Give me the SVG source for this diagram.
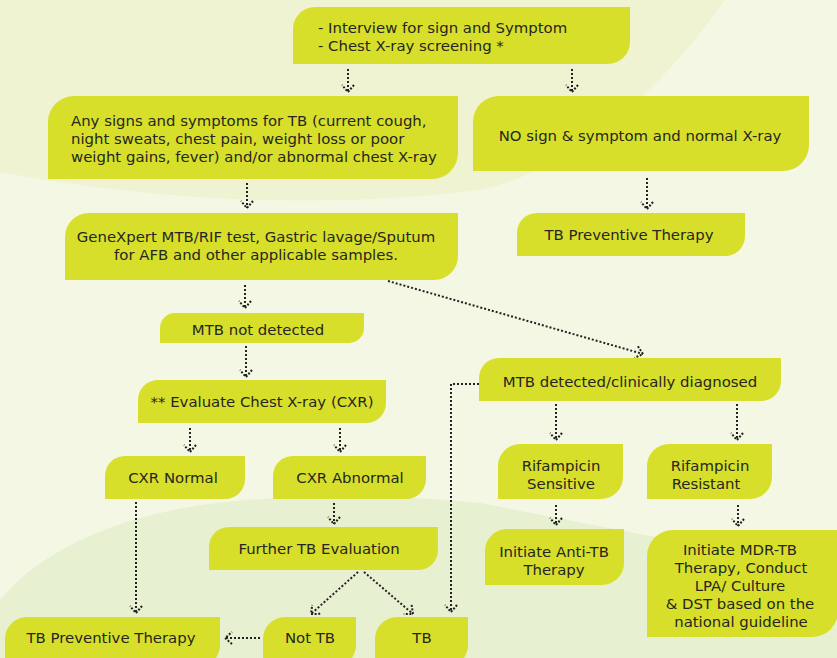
<svg xmlns="http://www.w3.org/2000/svg" width="837" height="658" viewBox="0 0 837 658">
<style>
.n{fill:#d7df2b}
.t{font-family:"DejaVu Sans","Liberation Sans",sans-serif;font-size:14.9px;fill:#26261f}
.m{text-anchor:middle}
.c{fill:none;stroke:#222;stroke-width:2;stroke-dasharray:2 2}
</style>
<defs>
<marker id="ah" viewBox="-9 -9 18 18" refX="0" refY="0" markerWidth="18" markerHeight="18" markerUnits="userSpaceOnUse" orient="auto">
<path d="M-7,-6 L0,0 L-7,6" fill="none" stroke="#222" stroke-width="2" stroke-dasharray="2 1.6"/>
</marker>
</defs>
<rect width="837" height="658" fill="#f3f7e3"/>
<path d="M0,0 L0,172 Q250,218 480,190 Q610,160 725,0 Z" fill="#eff3d1"/>
<path d="M0,658 L0,600 Q60,528 200,505 Q330,488 480,503 L837,572 L837,658 Z" fill="#e8f0d2"/>

<g id="connectors">
<line class="c" x1="348" y1="69" x2="348" y2="92" marker-end="url(#ah)"/>
<line class="c" x1="572" y1="69" x2="572" y2="92" marker-end="url(#ah)"/>
<line class="c" x1="247" y1="183" x2="247" y2="208" marker-end="url(#ah)"/>
<line class="c" x1="647" y1="178" x2="647" y2="209" marker-end="url(#ah)"/>
<line class="c" x1="245" y1="285" x2="245" y2="308" marker-end="url(#ah)"/>
<line class="c" x1="388" y1="281" x2="643" y2="354" marker-end="url(#ah)"/>
<line class="c" x1="246" y1="346" x2="246" y2="377" marker-end="url(#ah)"/>
<line class="c" x1="190" y1="428" x2="190" y2="452" marker-end="url(#ah)"/>
<line class="c" x1="340" y1="428" x2="340" y2="452" marker-end="url(#ah)"/>
<line class="c" x1="334" y1="503" x2="334" y2="524" marker-end="url(#ah)"/>
<polyline class="c" points="479,384 451,384 451,612" marker-end="url(#ah)"/>
<line class="c" x1="556" y1="404" x2="556" y2="440" marker-end="url(#ah)"/>
<line class="c" x1="737" y1="404" x2="737" y2="440" marker-end="url(#ah)"/>
<line class="c" x1="556" y1="505" x2="556" y2="525" marker-end="url(#ah)"/>
<line class="c" x1="738" y1="505" x2="738" y2="526" marker-end="url(#ah)"/>
<line class="c" x1="136" y1="502" x2="136" y2="613" marker-end="url(#ah)"/>
<line class="c" x1="358" y1="572" x2="311" y2="614" marker-end="url(#ah)"/>
<line class="c" x1="364" y1="572" x2="413" y2="614" marker-end="url(#ah)"/>
<line class="c" x1="260" y1="638" x2="225" y2="638" marker-end="url(#ah)"/>
</g>

<g id="screening">
<path class="n" d="M293,64 V29 A22,22 0 0 1 315,7 H630 V42 A22,22 0 0 1 608,64 Z"/>
<text class="t" x="318" y="33">- Interview for sign and Symptom</text>
<text class="t" x="318" y="51">- Chest X-ray screening *</text>
</g>
<g id="signs">
<path class="n" d="M48,179 V122 A26,26 0 0 1 74,96 H458 V153 A26,26 0 0 1 432,179 Z"/>
<text class="t" x="71" y="126">Any signs and symptoms for TB (current cough,</text>
<text class="t" x="71" y="144">night sweats, chest pain, weight loss or poor</text>
<text class="t" x="71" y="162">weight gains, fever) and/or abnormal chest X-ray</text>
</g>
<g id="nosign">
<path class="n" d="M473,171 V122 A26,26 0 0 1 499,96 H809 V145 A26,26 0 0 1 783,171 Z"/>
<text class="t m" x="640" y="141">NO sign &amp; symptom and normal X-ray</text>
</g>
<g id="tpt1">
<path class="n" d="M517,256 V233 A20,20 0 0 1 537,213 H745 V236 A20,20 0 0 1 725,256 Z"/>
<text class="t m" x="629" y="240">TB Preventive Therapy</text>
</g>
<g id="genexpert">
<path class="n" d="M65,280 V237 A24,24 0 0 1 89,213 H458 V256 A24,24 0 0 1 434,280 Z"/>
<text class="t m" x="256" y="242">GeneXpert MTB/RIF test, Gastric lavage/Sputum</text>
<text class="t m" x="256" y="260">for AFB and other applicable samples.</text>
</g>
<g id="notdetected">
<path class="n" d="M160,343 V328 A15,15 0 0 1 175,313 H364 V328 A15,15 0 0 1 349,343 Z"/>
<text class="t m" x="258" y="335">MTB not detected</text>
</g>
<g id="evaluate">
<path class="n" d="M138,423 V400 A20,20 0 0 1 158,380 H386 V403 A20,20 0 0 1 366,423 Z"/>
<text class="t m" x="262" y="407">** Evaluate Chest X-ray (CXR)</text>
</g>
<g id="detected">
<path class="n" d="M479,401 V378 A20,20 0 0 1 499,358 H781 V381 A20,20 0 0 1 761,401 Z"/>
<text class="t m" x="630" y="387">MTB detected/clinically diagnosed</text>
</g>
<g id="cxrnormal">
<path class="n" d="M105,499 V476 A20,20 0 0 1 125,456 H245 V479 A20,20 0 0 1 225,499 Z"/>
<text class="t m" x="173" y="483">CXR Normal</text>
</g>
<g id="cxrabnormal">
<path class="n" d="M273,499 V476 A20,20 0 0 1 293,456 H426 V479 A20,20 0 0 1 406,499 Z"/>
<text class="t m" x="350" y="483">CXR Abnormal</text>
</g>
<g id="further">
<path class="n" d="M209,570 V547 A20,20 0 0 1 229,527 H438 V550 A20,20 0 0 1 418,570 Z"/>
<text class="t m" x="319" y="554">Further TB Evaluation</text>
</g>
<g id="rifs">
<path class="n" d="M498,499 V466 A22,22 0 0 1 520,444 H623 V477 A22,22 0 0 1 601,499 Z"/>
<text class="t m" x="561" y="471">Rifampicin</text>
<text class="t m" x="561" y="489">Sensitive</text>
</g>
<g id="rifr">
<path class="n" d="M647,499 V466 A22,22 0 0 1 669,444 H772 V477 A22,22 0 0 1 750,499 Z"/>
<text class="t m" x="710" y="471">Rifampicin</text>
<text class="t m" x="706" y="489">Resistant</text>
</g>
<g id="antitb">
<path class="n" d="M485,585 V551 A22,22 0 0 1 507,529 H624 V563 A22,22 0 0 1 602,585 Z"/>
<text class="t m" x="554" y="557">Initiate Anti-TB</text>
<text class="t m" x="554" y="575">Therapy</text>
</g>
<g id="mdr">
<path class="n" d="M647,637 V556 A26,26 0 0 1 673,530 H838 V611 A26,26 0 0 1 812,637 Z"/>
<text class="t m" x="740" y="555">Initiate MDR-TB</text>
<text class="t m" x="741" y="573">Therapy, Conduct</text>
<text class="t m" x="740" y="591">LPA/ Culture</text>
<text class="t m" x="740" y="609">&amp; DST based on the</text>
<text class="t m" x="741" y="627">national guideline</text>
</g>
<g id="tpt2">
<path class="n" d="M5,667 V639 A22,22 0 0 1 27,617 H220 V645 A22,22 0 0 1 198,667 Z"/>
<text class="t m" x="111" y="643">TB Preventive Therapy</text>
</g>
<g id="nottb">
<path class="n" d="M263,667 V639 A22,22 0 0 1 285,617 H356 V645 A22,22 0 0 1 334,667 Z"/>
<text class="t m" x="310" y="643">Not TB</text>
</g>
<g id="tb">
<path class="n" d="M375,667 V639 A22,22 0 0 1 397,617 H468 V645 A22,22 0 0 1 446,667 Z"/>
<text class="t m" x="422" y="643">TB</text>
</g>
</svg>
